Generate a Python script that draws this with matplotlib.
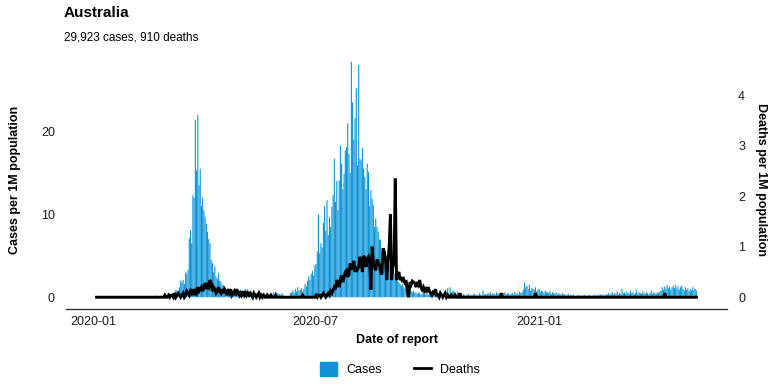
import numpy as np
import pandas as pd
import matplotlib
matplotlib.use('Agg')
import matplotlib.pyplot as plt
import matplotlib.dates as mdates
from matplotlib.patches import Patch
from matplotlib.lines import Line2D

plt.rcParams['font.family'] = ['Liberation Sans', 'DejaVu Sans']

country = 'Australia'
subtitle = '29,923 cases, 910 deaths'
first_day = '2020-01-04'

# daily cases per 1M population
cases = [
    0, 0, 0, 0, 0, 0, 0, 0, 0, 0,
    0, 0, 0, 0, 0, 0, 0, 0, 0, 0,
    0, 0.16, 0.04, 0, 0.04, 0.08, 0, 0, 0.04, 0,
    0.04, 0, 0, 0, 0, 0, 0, 0, 0, 0,
    0, 0, 0, 0, 0, 0, 0, 0, 0.04, 0.2,
    0.04, 0.08, 0.12, 0.2, 0.08, 0.2, 0.12, 0.24, 0.16, 0.3,
    0.4, 0.35, 0.5, 0.3, 0.6, 0.9, 0.8, 0.7, 1.2, 2.0,
    1.8, 2.1, 1.6, 3.0, 2.8, 3.3, 7.1, 8.1, 6.5, 12.3,
    12.0, 21.4, 15.3, 22.0, 13.5, 15.5, 11.0, 12.0, 10.5, 9.7,
    8.9, 7.9, 7.0, 6.5, 4.5, 4.1, 3.0, 3.7, 2.5, 2.2,
    2.9, 2.0, 1.9, 1.4, 1.5, 1.2, 1.0, 0.8, 1.0, 0.6,
    0.7, 0.5, 0.6, 0.4, 0.5, 0.3, 0.6, 0.4, 0.9, 0.5,
    0.8, 0.5, 1.0, 0.7, 1.0, 0.6, 0.5, 0.7, 0.4, 0.6,
    0.3, 0.5, 0.4, 0.3, 0.6, 0.4, 0.3, 0.2, 0.4, 0.3,
    0.2, 0.4, 0.3, 0.5, 0.3, 0.6, 0.4, 0.7, 0.5, 0.3,
    0.4, 0.3, 0.5, 0.3, 0.1, 0.05, 0.1, 0.05, 0.1, 0.5,
    0.6, 0.8, 0.5, 1.0, 0.7, 1.2, 0.8, 0.9, 1.1, 0.7,
    1.0, 1.6, 1.3, 2.0, 2.5, 2.1, 2.8, 3.2, 2.6, 3.8,
    4.0, 5.5, 10.0, 5.3, 6.5, 6.0, 9.0, 11.0, 8.0, 11.7,
    7.5, 9.7, 8.5, 10.9, 12.3, 16.7, 11.5, 14.0, 10.5, 14.1,
    18.3, 16.1, 13.0, 14.9, 17.7, 18.1, 21.0, 17.3, 15.0, 28.4,
    23.5, 19.0, 21.6, 25.2, 15.9, 28.0, 16.7, 16.5, 18.0, 15.5,
    14.5, 13.0, 16.1, 15.1, 11.0, 12.9, 11.9, 11.1, 8.5, 9.5,
    8.5, 7.9, 7.0, 6.9, 5.5, 5.7, 4.9, 4.0, 4.9, 4.4,
    3.9, 3.6, 3.0, 3.2, 2.9, 2.4, 2.6, 2.0, 1.8, 1.6,
    1.4, 1.6, 1.2, 1.0, 1.3, 0.9, 0.8, 1.0, 0.7, 0.6,
    0.8, 0.5, 0.6, 0.4, 0.5, 0.6, 0.3, 0.4, 0.5, 0.3,
    0.4, 0.6, 0.3, 0.5, 0.2, 0.4, 0.3, 0.5, 0.9, 0.4,
    0.3, 0.6, 0.2, 0.4, 0.3, 0.5, 0.2, 0.3, 1.1, 0.4,
    1.2, 0.5, 0.7, 0.8, 0.6, 0.4, 0.7, 0.3, 0.5, 0.3,
    0.2, 0.4, 0.3, 0.2, 0.3, 0.4, 0.2, 0.3, 0.2, 0.3,
    0.4, 0.2, 0.3, 0.2, 0.5, 0.3, 0.2, 0.8, 0.3, 0.4,
    0.3, 0.5, 0.4, 0.6, 0.3, 0.5, 0.4, 0.3, 0.6, 0.4,
    0.5, 0.3, 0.4, 0.3, 0.5, 0.6, 0.3, 0.4, 0.5, 0.3,
    0.4, 0.5, 0.3, 0.6, 0.4, 0.5, 0.3, 0.7, 0.5, 0.6,
    0.9, 1.7, 1.2, 1.4, 1.0, 1.5, 0.8, 1.1, 1.0, 0.9,
    1.2, 0.7, 0.9, 1.0, 0.6, 0.8, 0.7, 0.5, 0.8, 0.6,
    0.6, 0.5, 0.7, 0.4, 0.6, 0.5, 0.4, 0.6, 0.3, 0.5,
    0.4, 0.3, 0.5, 0.3, 0.4, 0.2, 0.3, 0.4, 0.2, 0.3,
    0.2, 0.3, 0.2, 0.1, 0.2, 0.3, 0.2, 0.1, 0.2, 0.2,
    0.3, 0.2, 0.1, 0.2, 0.3, 0.2, 0.1, 0.2, 0.3, 0.2,
    0.2, 0.3, 0.2, 0.4, 0.3, 0.2, 0.3, 0.2, 0.4, 0.3,
    0.5, 0.3, 0.4, 0.6, 0.3, 0.5, 0.4, 0.7, 0.3, 0.5,
    0.4, 1.0, 0.5, 0.6, 0.4, 0.7, 0.5, 0.4, 0.8, 0.5,
    0.6, 0.4, 0.5, 0.9, 0.4, 0.6, 0.5, 0.4, 0.7, 0.5,
    0.4, 0.6, 0.5, 0.3, 0.5, 0.8, 0.4, 0.6, 0.5, 0.4,
    0.6, 0.5, 0.7, 0.8, 1.2, 0.9, 1.3, 1.0, 1.5, 1.1,
    1.3, 0.9, 1.2, 1.4, 1.1, 1.5, 1.0, 1.3, 0.9, 1.2,
    1.4, 1.0, 0.8, 1.2, 0.9, 1.1, 0.7, 1.0, 0.8, 1.2,
    0.9, 1.0, 0.8,
]

# daily deaths per 1M population (runs of zero days written as [0] * n)
deaths = (
    [0] * 55 + [
        0, 0.04, 0, 0, 0.04, 0, 0.04, 0.04, 0, 0.08,
        0, 0.04, 0.08, 0.04, 0, 0.04, 0.08, 0, 0.04, 0.12,
        0.08, 0.04, 0.12, 0.08, 0.16, 0.04, 0.12, 0.08, 0.2, 0.12,
        0.16, 0.2, 0.12, 0.2, 0.28, 0.16, 0.24, 0.2, 0.34, 0.28,
        0.12, 0.2, 0.16, 0.08, 0.12, 0.2, 0.12, 0.08, 0.16, 0.08,
        0.16, 0.12, 0.04, 0.12, 0.08, 0.16, 0.04, 0.08, 0.12, 0.04,
        0.16, 0.08, 0.04, 0.12, 0.04, 0.08, 0.04, 0.12, 0.04, 0.08,
        0.04, 0.08, 0.04, 0, 0.08, 0.04, 0, 0.04, 0.08, 0,
        0.04, 0, 0.04, 0, 0, 0.04, 0, 0, 0.04, 0,
        0, 0, 0.04, 0, 0, 0, 0, 0, 0, 0,
        0, 0, 0, 0, 0, 0, 0, 0, 0, 0,
        0, 0, 0, 0, 0.04, 0, 0, 0, 0, 0,
        0, 0, 0, 0, 0, 0.04, 0, 0.04, 0.04, 0,
        0.04, 0.08, 0.04, 0, 0.04, 0.08, 0.04, 0.12, 0.08, 0.14,
        0.2, 0.16, 0.34, 0.28, 0.2, 0.36, 0.43, 0.3, 0.4, 0.5,
        0.53, 0.4, 0.45, 0.67, 0.55, 0.6, 0.72, 0.5, 0.6, 0.55,
        0.6, 0.8, 0.7, 0.5, 0.82, 0.78, 0.6, 0.76, 0.8, 0.7,
        0.15, 1.0, 0.67, 0.6, 0.53, 0.75, 0.7, 0.64, 0.5, 0.45,
        0.97, 0.9, 0.75, 0.34, 0.7, 1.0, 1.64, 0.34, 0.6, 0.7,
        2.35, 0.34, 0.45, 0.5, 0.34, 0.4, 0.3, 0.35, 0.28, 0.3,
        0.1, 0.0, 0.3, 0.25, 0.32, 0.3, 0.28, 0.2, 0.3, 0.25,
        0.34, 0.2, 0.15, 0.2, 0.12, 0.16, 0.1, 0.2, 0.12, 0.08,
        0.04, 0.1, 0.08, 0.16, 0.04, 0.04, 0, 0.08, 0.04, 0,
        0.04, 0.08, 0, 0.04, 0, 0, 0.04, 0, 0, 0.04,
        0, 0, 0, 0.08, 0, 0, 0, 0, 0, 0,
    ]
    + [0] * 27 + [0.08] + [0] * 27 + [0.08] + [0] * 105 + [0.08] + [0] * 26
)

case_ticks = [0, 10, 20]
death_ticks = [0, 1, 2, 3, 4]
date_ticks = ['2020-01-01', '2020-07-01', '2021-01-01']

bar_color = '#0b93d6'
death_scale = 6.09  # cases-axis units per death-axis unit
text_color = '#1a1a1a'

dates = pd.date_range(first_day, periods=len(cases))

fig = plt.figure(figsize=(7.84, 3.92), dpi=100)
ax = fig.add_axes([66/784, 83/392, 661/784, 259/392])

ax.bar(dates, cases, width=0.9, color=bar_color, linewidth=0, snap=False)

ymax = max(cases)
ax.set_ylim(-0.05*ymax, 1.05*ymax)
span = (dates[-1] - dates[0]).days + 0.9
pad = pd.Timedelta(days=0.05*span + 0.45)
ax.set_xlim(dates[0] - pad, dates[-1] + pad)

ax2 = ax.twinx()
ax2.plot(dates, deaths, color='black', lw=2.1, solid_joinstyle='miter')
lo, hi = ax.get_ylim()
ax2.set_ylim(lo/death_scale, hi/death_scale)

ax.set_yticks(case_ticks)
ax2.set_yticks(death_ticks)
ax.set_xticks(pd.to_datetime(date_ticks))
ax.xaxis.set_major_formatter(mdates.DateFormatter('%Y-%m'))

for a in (ax, ax2):
    for s in ['top', 'left', 'right']:
        a.spines[s].set_visible(False)
    a.tick_params(length=0, labelsize=9, colors=text_color)
ax2.spines['bottom'].set_visible(False)
ax.spines['bottom'].set_color('#333333')
ax.spines['bottom'].set_linewidth(1.0)
ax.tick_params(axis='y', pad=8)
ax2.tick_params(axis='y', pad=8)
ax.tick_params(axis='x', pad=5)

ax.set_ylabel('Cases per 1M population', fontsize=9, fontweight='bold', labelpad=14)
ax2.set_ylabel('Deaths per 1M population', fontsize=9, fontweight='bold',
               rotation=-90, labelpad=16)
ax.set_xlabel('Date of report', fontsize=9, fontweight='bold', labelpad=4)

fig.text(64/784, 1 - 13/392, country, fontsize=11, fontweight='bold', va='center')
fig.text(64/784, 1 - 37/392, subtitle, fontsize=8.5, va='center')

handles = [Patch(color=bar_color, label='Cases'),
           Line2D([0], [0], color='black', lw=2.0, label='Deaths')]
fig.legend(handles=handles, loc='center', bbox_to_anchor=(400/784, 1 - 369/392),
           ncol=2, frameon=False, fontsize=9, handlelength=1.35, handleheight=1.35,
           handletextpad=0.7, columnspacing=2.6)

fig.savefig('out.png', dpi=100)
